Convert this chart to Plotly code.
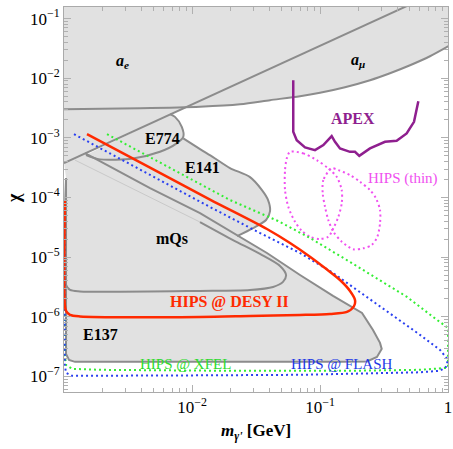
import math
import plotly.graph_objects as go

# ---------------- data (m in GeV, chi) ----------------
ae_m = [1.0e-3, 3.93e-3, 1.155e-2, 2.37e-2, 4.07e-2, 6.98e-2, 0.1, 0.1567, 0.246, 0.352, 0.505, 0.723, 1.037]
ae_chi = [3.03e-3, 3.15e-3, 3.34e-3, 3.67e-3, 4.29e-3, 5.00e-3, 5.72e-3, 7.08e-3, 9.27e-3, 1.213e-2, 1.651e-2, 2.337e-2, 3.57e-2]

amu_m = [1.0e-3, 1.0]
amu_chi = [3.77e-4, 0.336]

e774_m = [1.486e-3, 1.911e-3, 3.46e-3, 5.62e-3, 7.59e-3, 8.55e-3, 8.32e-3, 7.36e-3, 6.73e-3]
e774_chi = [5.14e-4, 4.36e-4, 4.53e-4, 5.84e-4, 8.07e-4, 1.042e-3, 1.531e-3, 2.25e-3, 2.50e-3]

e141_m = [8.55e-3, 1.155e-2, 1.459e-2, 1.98e-2, 2.84e-2, 3.52e-2, 3.93e-2, 4.07e-2, 3.79e-2, 3.00e-2, 2.25e-2]
e141_chi = [9.79e-4, 6.48e-4, 4.76e-4, 3.12e-4, 2.20e-4, 1.334e-4, 9.08e-5, 5.94e-5, 4.20e-5, 3.08e-5, 2.26e-5]

e137_m = [1.459e-3, 4.70e-3, 1.155e-2, 3.85e-2, 6.98e-2, 0.1264, 0.2129, 0.2594, 0.2944, 0.3034,
          0.2786, 0.2328, 0.1433, 1.219e-3, 1.094e-3, 1.037e-3, 1.037e-3]
e137_chi = [5.55e-4, 1.442e-4, 5.50e-5, 1.175e-5, 5.03e-6, 2.24e-6, 1.164e-6, 6.04e-7, 3.66e-7, 2.90e-7,
            2.13e-7, 1.79e-7, 1.76e-7, 1.76e-7, 1.90e-7, 2.39e-7, 2.12e-4]

mqs_m = [1.155e-2, 2.09e-2, 3.40e-2, 4.87e-2, 5.43e-2, 5.14e-2, 4.30e-2, 2.84e-2, 1.155e-2,
         1.334e-3, 1.114e-3, 1.037e-3, 1.037e-3]
mqs_chi = [3.88e-5, 1.94e-5, 1.132e-5, 7.13e-6, 5.03e-6, 3.85e-6, 3.17e-6, 2.82e-6, 2.72e-6,
           2.67e-6, 2.82e-6, 3.43e-6, 2.12e-4]
mqs_faint_m = [1.219e-3, 3.93e-3, 1.155e-2]
mqs_faint_chi = [4.24e-4, 1.236e-4, 3.88e-5]

desy_m = [1.512e-3, 4.70e-3, 1.383e-2, 3.85e-2, 5.83e-2, 8.35e-2, 0.1094, 0.1433, 0.1715, 0.1877,
          0.1845, 0.1625, 0.1197, 6.98e-2, 2.84e-2, 1.155e-2, 1.334e-3, 1.114e-3, 1.037e-3,
          1.0145e-3, 1.0145e-3]
desy_chi = [1.155e-3, 3.18e-4, 9.25e-5, 2.97e-5, 1.73e-5, 1.02e-5, 6.59e-6, 4.15e-6, 2.72e-6, 1.92e-6,
            1.52e-6, 1.21e-6, 1.12e-6, 1.077e-6, 1.037e-6, 9.98e-7, 1.016e-6, 1.077e-6, 1.256e-6,
            1.585e-6, 8.73e-5]

xfel_m = [2.168e-3, 4.70e-3, 1.98e-2, 4.70e-2, 8.35e-2, 0.1715, 0.2944, 0.4782, 0.7638, 1.0, 1.0,
          0.6043, 0.1715, 1.98e-2, 1.911e-3, 1.155e-3, 1.037e-3, 1.0145e-3, 1.0145e-3]
xfel_chi = [1.155e-3, 4.76e-4, 9.08e-5, 4.04e-5, 2.10e-5, 8.32e-6, 4.15e-6, 2.16e-6, 9.98e-7, 6.53e-7,
            1.40e-7, 1.294e-7, 1.245e-7, 1.245e-7, 1.294e-7, 1.343e-7, 1.567e-7, 2.31e-7, 8.73e-5]

flash_m = [1.197e-3, 4.70e-3, 1.383e-2, 3.40e-2, 6.98e-2, 0.1264, 0.2328, 0.4217, 0.6043, 0.866, 1.0,
           0.9646, 0.866, 0.6043, 6.98e-2, 1.155e-2, 1.911e-3, 1.155e-3, 1.037e-3, 1.0145e-3, 1.0145e-3]
flash_chi = [1.155e-3, 2.38e-4, 6.93e-5, 2.54e-5, 1.175e-5, 5.44e-6, 2.16e-6, 8.89e-7, 4.99e-7, 2.79e-7,
             1.90e-7, 1.45e-7, 1.245e-7, 1.175e-7, 1.067e-7, 1.045e-7, 1.025e-7, 1.025e-7, 1.151e-7,
             1.567e-7, 8.73e-5]

thin1_m = [0.0583, 0.0741, 0.0942, 0.1161, 0.1350, 0.1478, 0.1478, 0.1391, 0.1271, 0.1161, 0.1,
           0.0835, 0.0720, 0.0638, 0.0565, 0.0533, 0.0533, 0.0550, 0.0583]
thin1_chi = [5.84e-4, 5.49e-4, 4.24e-4, 3.08e-4, 2.23e-4, 1.334e-4, 7.98e-5, 4.76e-5, 3.05e-5, 2.20e-5,
             2.02e-5, 2.20e-5, 2.78e-5, 3.93e-5, 7.01e-5, 1.334e-4, 2.88e-4, 4.53e-4, 5.84e-4]
thin2_m = [0.1234, 0.1062, 0.1050, 0.1094, 0.1161, 0.1271, 0.1478, 0.1820, 0.2178, 0.2535, 0.2805,
           0.2944, 0.2944, 0.2739, 0.2458, 0.2054, 0.1715, 0.1391, 0.1234]
thin2_chi = [3.08e-4, 1.963e-4, 1.175e-4, 7.01e-5, 4.20e-5, 2.67e-5, 1.82e-5, 1.355e-5, 1.41e-5, 1.60e-5,
             2.20e-5, 3.70e-5, 6.17e-5, 9.68e-5, 1.334e-4, 1.837e-4, 2.38e-4, 2.88e-4, 3.08e-4]

apex_m = [0.0618, 0.0618, 0.0658, 0.0764, 0.0914, 0.1062, 0.1234, 0.1310, 0.1433, 0.1715, 0.1877,
          0.2027, 0.2458, 0.3219, 0.3972, 0.4753, 0.5425, 0.5703, 0.5865]
apex_chi = [9.27e-3, 1.263e-3, 9.16e-4, 6.92e-4, 6.24e-4, 7.56e-4, 1.069e-3, 8.59e-4, 6.65e-4, 5.84e-4,
            5.84e-4, 5.00e-4, 6.65e-4, 8.59e-4, 8.93e-4, 1.187e-3, 1.857e-3, 2.92e-3, 4.12e-3]

x_tickvals = [1e-2, 1e-1, 1]
x_ticktext = ["10<sup>\u22122</sup>", "10<sup>\u22121</sup>", "1"]
y_tickvals = [1e-7, 1e-6, 1e-5, 1e-4, 1e-3, 1e-2, 1e-1]
y_ticktext = ["10<sup>\u22127</sup>", "10<sup>\u22126</sup>", "10<sup>\u22125</sup>", "10<sup>\u22124</sup>",
              "10<sup>\u22123</sup>", "10<sup>\u22122</sup>", "10<sup>\u22121</sup>"]

labels = [
    ("<b><i>a<sub>e</sub></i></b>", 2.89e-3, 1.93e-2, "black", 16),
    ("<b><i>a<sub>\u03bc</sub></i></b>", 0.198, 1.96e-2, "black", 16),
    ("<b>E774</b>", 5.83e-3, 9.9e-4, "black", 16),
    ("<b>E141</b>", 1.198e-2, 3.24e-4, "black", 16),
    ("<b>mQs</b>", 6.98e-3, 2.09e-5, "black", 16),
    ("<b>E137</b>", 1.94e-3, 4.98e-7, "black", 16),
    ("<b>HIPS @ DESY II</b>", 1.98e-2, 1.78e-6, "#ff2a00", 16),
    ("<b>APEX</b>", 0.181, 2.14e-3, "#8f1f8f", 16),
    ("HIPS (thin)", 0.445, 2.12e-4, "#f050f0", 15),
    ("HIPS @ XFEL", 8.97e-3, 1.63e-7, "#2edb2e", 15),
    ("HIPS @ FLASH", 0.1486, 1.63e-7, "#2238e6", 15),
]

# ---------------- style ----------------
FILL = "#e1e1e1"
EDGE = "#8c8c8c"
FONT = "Liberation Serif, Times New Roman, serif"

fig = go.Figure()

def poly(xs, ys):
    fig.add_trace(go.Scatter(x=xs, y=ys, mode="lines", fill="toself", fillcolor=FILL,
                             line=dict(width=0, color=FILL), hoverinfo="skip", showlegend=False))

def edge(xs, ys, color=EDGE, width=2, shape="linear", dash=None):
    fig.add_trace(go.Scatter(x=xs, y=ys, mode="lines",
                             line=dict(color=color, width=width, shape=shape, dash=dash, smoothing=0.8),
                             hoverinfo="skip", showlegend=False))

# filled regions
poly(ae_m + [1.037, 1.0e-3], ae_chi + [1.0, 1.0])
poly(amu_m + [1.0, 1.0e-3], amu_chi + [1.0, 1.0])
poly(e774_m, e774_chi)
poly(e141_m + [e137_m[2], e137_m[1], e137_m[0]] + e774_m[:6],
     e141_chi + [e137_chi[2], e137_chi[1], e137_chi[0]] + e774_chi[:6])
poly([amu_m[0]] + e137_m, [amu_chi[0]] + e137_chi)

# outlines
edge(mqs_faint_m, mqs_faint_chi, color="#c9c9c9", width=1)
edge(ae_m, ae_chi, shape="spline")
edge(amu_m, amu_chi)
edge(e774_m, e774_chi, shape="spline")
edge(e141_m, e141_chi, shape="spline")
edge(e137_m, e137_chi)
edge(mqs_m, mqs_chi, shape="spline")

# sensitivity curves
DOT = "2px,3px"
edge(thin1_m, thin1_chi, color="#f050f0", width=2, shape="spline", dash=DOT)
edge(thin2_m, thin2_chi, color="#f050f0", width=2, shape="spline", dash=DOT)
edge(xfel_m, xfel_chi, color="#33ee33", width=2, dash=DOT)
edge(flash_m, flash_chi, color="#2a40f0", width=2, dash=DOT)
edge(desy_m, desy_chi, color="#ff2a00", width=2.5, shape="spline")
edge(apex_m, apex_chi, color="#8f1f8f", width=2.5)

# annotations on log axes are positioned in log10 units
for txt, x, y, col, sz in labels:
    fig.add_annotation(x=math.log10(x), y=math.log10(y), xref="x", yref="y", text=txt, showarrow=False,
                       font=dict(family=FONT, size=sz, color=col), xanchor="center", yanchor="middle")

# axis titles
fig.add_annotation(x=0.501, y=-0.105, xref="paper", yref="paper", showarrow=False,
                   text="<b><i>m</i><sub><i>\u03b3'</i></sub> [GeV]</b>",
                   font=dict(family=FONT, size=17, color="black"), xanchor="center", yanchor="middle")
fig.add_annotation(x=-0.13, y=0.504, xref="paper", yref="paper", showarrow=False,
                   text="<b>\u03c7</b>", textangle=-90,
                   font=dict(family=FONT, size=18, color="black"), xanchor="center", yanchor="middle")

x_minor = [k * 10.0 ** e for e in (-3, -2, -1) for k in range(2, 10)]
y_minor = [k * 10.0 ** e for e in (-8, -7, -6, -5, -4, -3, -2, -1) for k in range(2, 10)]

axis_common = dict(type="log", showgrid=False, zeroline=False, showline=True, linecolor="#aaaaaa",
                   linewidth=1, mirror="allticks", ticks="inside", ticklen=7, tickwidth=1,
                   tickcolor="#b0b0b0", automargin=False,
                   tickfont=dict(family=FONT, size=17, color="black"))

fig.update_xaxes(range=[-3, 0], tickmode="array", tickvals=x_tickvals, ticktext=x_ticktext,
                 minor=dict(tickmode="array", tickvals=x_minor, ticks="inside", ticklen=4,
                            tickcolor="#b0b0b0", showgrid=False), **axis_common)
fig.update_yaxes(range=[-7.26, -0.806], tickmode="array", tickvals=y_tickvals, ticktext=y_ticktext,
                 minor=dict(tickmode="array", tickvals=y_minor, ticks="inside", ticklen=4,
                            tickcolor="#b0b0b0", showgrid=False), **axis_common)

fig.update_layout(width=453, height=449, margin=dict(l=64, r=5, t=7, b=57, autoexpand=False),
                  paper_bgcolor="white", plot_bgcolor="white", showlegend=False,
                  font=dict(family=FONT))

fig.write_html("out.html", config={"displayModeBar": False},
               post_script="document.body.style.margin='0px';")
